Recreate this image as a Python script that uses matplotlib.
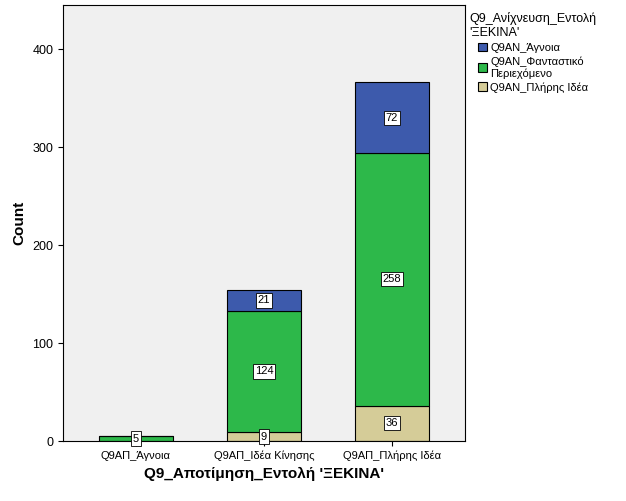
import matplotlib
matplotlib.use('Agg')
import matplotlib.pyplot as plt
import numpy as np

categories = ['Q9ΑΠ_Άγνοια', 'Q9ΑΠ_Ιδέα Κίνησης', 'Q9ΑΠ_Πλήρης Ιδέα']
# stacked bottom to top
series_names = ['Q9ΑΝ_Πλήρης Ιδέα', 'Q9ΑΝ_Φανταστικό\nΠεριεχόμενο', 'Q9ΑΝ_Άγνοια']
series_values = [
    [0, 9, 36],
    [5, 124, 258],
    [0, 21, 72],
]
colors = ['#d5cc98', '#2db84a', '#3d5aac']

plt.rcParams['font.family'] = ['Liberation Sans', 'DejaVu Sans']
fig = plt.figure(figsize=(6.26, 5.01), dpi=100)
ax = fig.add_axes([63/626, 60/501, 402/626, 436/501])
ax.set_facecolor('#f0f0f0')

x = np.arange(len(categories))
bottom = np.zeros(len(categories))
handles = []
for name, vals, c in zip(series_names, series_values, colors):
    vals = np.array(vals)
    b = ax.bar(x, vals, 0.58, bottom=bottom, color=c, edgecolor='black', linewidth=0.8, label=name)
    handles.append(b)
    for xi, v, bt in zip(x, vals, bottom):
        if v > 0:
            ax.text(xi, bt + v / 2, str(v), ha='center', va='center', fontsize=8,
                    bbox=dict(facecolor='white', edgecolor='black', linewidth=0.6, pad=1.5))
    bottom += vals

ax.set_xlim(-0.57, 2.57)
ax.set_ylim(0, 445)
ax.set_yticks([0, 100, 200, 300, 400])
ax.set_xticks(x)
ax.set_xticklabels(categories, fontsize=8)
ax.tick_params(axis='y', labelsize=9)
ax.set_ylabel('Count', fontsize=11, fontweight='bold')
ax.set_xlabel("Q9_Αποτίμηση_Εντολή 'ΞΕΚΙΝΑ'", fontsize=11, fontweight='bold')

leg = fig.legend(handles[::-1], [h.get_label() for h in handles[::-1]],
                 title="Q9_Ανίχνευση_Εντολή\n'ΞΕΚΙΝΑ'", loc='upper left',
                 bbox_to_anchor=(465/626, 1 - 8/501), frameon=False, fontsize=8,
                 title_fontsize=9, handlelength=0.8, handleheight=0.8,
                 handletextpad=0.3, labelspacing=0.3, borderaxespad=0)
for p in leg.get_patches():
    p.set_edgecolor('black')

fig.savefig('out.png', dpi=100)
